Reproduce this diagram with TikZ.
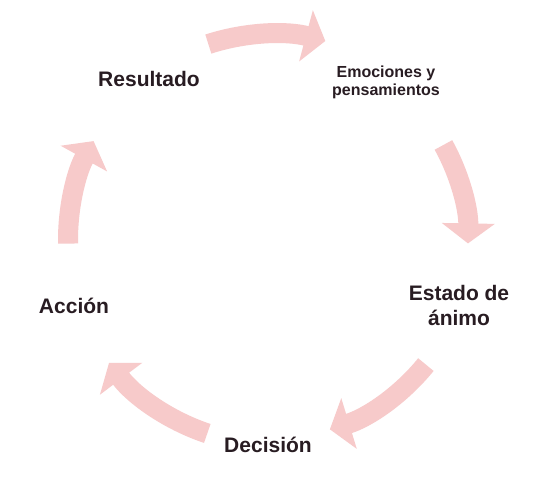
\documentclass[tikz,border=0pt]{standalone}
\usepackage{fontspec}
\setmainfont{Liberation Sans}
\usetikzlibrary{arrows.meta}
\definecolor{arrowpink}{RGB}{247,202,202}
\definecolor{labeltext}{RGB}{40,28,34}
\tikzset{
  cyclearrow/.style={draw=arrowpink, line width=20pt,
    -{Triangle[length=20pt,width=52pt,fill=arrowpink]}},
  biglabel/.style={font=\fontsize{21}{25}\selectfont\bfseries, text=labeltext, inner sep=0pt, align=center},
  smalllabel/.style={font=\fontsize{16}{18}\selectfont\bfseries, text=labeltext, inner sep=0pt, align=center}
}
\begin{document}
\begin{tikzpicture}[x=1pt,y=1pt]
\useasboundingbox[fill=white] (0,0) rectangle (548,487);
\coordinate (C) at (272,247);
\begin{scope}[shift={(C)}]
  \coordinate (a1) at (108:206);
  \coordinate (a2) at (29:196);
  \coordinate (a3) at (-39:198);
  \coordinate (a4) at (-108.5:204);
  \coordinate (a5) at (181:204);
\end{scope}
\draw[cyclearrow] (a1) arc[start angle=108, end angle=75, radius=206];
\draw[cyclearrow] (a2) arc[start angle=29, end angle=-1, radius=196];
\draw[cyclearrow] (a3) arc[start angle=-39, end angle=-73, radius=198];
\draw[cyclearrow] (a4) arc[start angle=-108.5, end angle=-143, radius=204];
\draw[cyclearrow] (a5) arc[start angle=181, end angle=151, radius=204];

\node[biglabel, anchor=base] (res) at (149,400) {Resultado};
\node[smalllabel, anchor=center] (emo) at (386,405) {Emociones y\\pensamientos};
\node[biglabel, anchor=center] (est) at (459,182) {Estado de\\ánimo};
\node[biglabel, anchor=base] (dec) at (268,35) {Decisión};
\node[biglabel, anchor=base] (acc) at (74,173) {Acción};
\end{tikzpicture}
\end{document}
